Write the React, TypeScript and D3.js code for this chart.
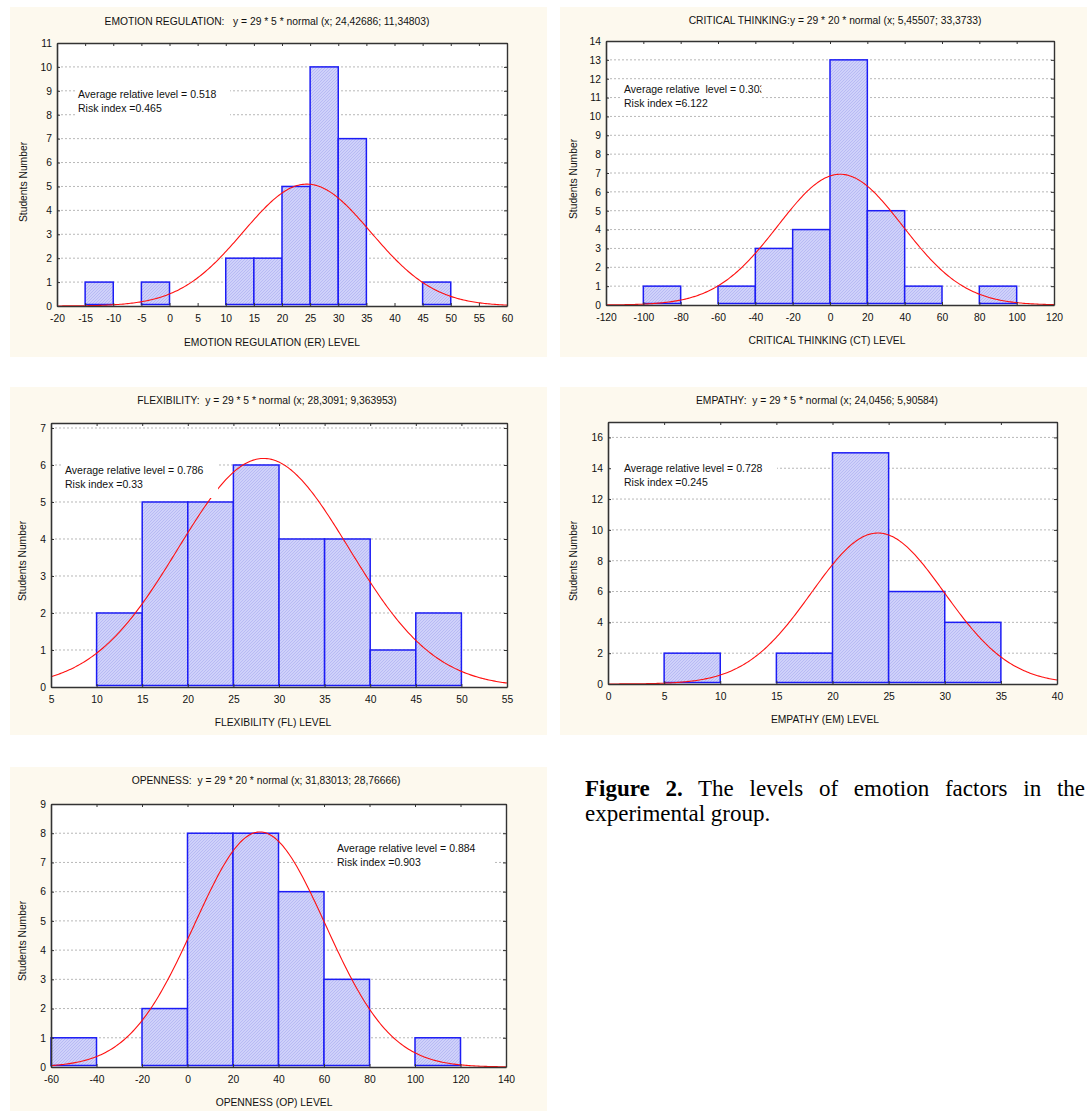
import { useRef, useEffect } from 'react';
import * as d3 from 'd3';

const W = 1087;
const H = 1111;
const sans = '"Liberation Sans", Arial, sans-serif';
const serif = '"Liberation Serif", "Times New Roman", serif';

// sample size of the group
const N = 29;

// ---- EMOTION REGULATION ----
const erEdges = [-20, -15, -10, -5, 0, 5, 10, 15, 20, 25, 30, 35, 40, 45, 50, 55, 60];
const erCounts = [0, 1, 0, 1, 0, 0, 2, 2, 5, 10, 7, 0, 0, 1, 0, 0];
const erYTicks = [0, 1, 2, 3, 4, 5, 6, 7, 8, 9, 10, 11];
const erFit = [24.42686, 11.34803];
const erNotes = ['Average relative level = 0.518', 'Risk index =0.465'];

// ---- CRITICAL THINKING ----
const ctEdges = [-120, -100, -80, -60, -40, -20, 0, 20, 40, 60, 80, 100, 120];
const ctCounts = [0, 1, 0, 1, 3, 4, 13, 5, 1, 0, 1, 0];
const ctYTicks = [0, 1, 2, 3, 4, 5, 6, 7, 8, 9, 10, 11, 12, 13, 14];
const ctFit = [5.45507, 33.3733];
const ctNotes = ['Average relative  level = 0.303', 'Risk index =6.122'];

// ---- FLEXIBILITY ----
const flEdges = [5, 10, 15, 20, 25, 30, 35, 40, 45, 50, 55];
const flCounts = [0, 2, 5, 5, 6, 4, 4, 1, 2, 0];
const flYTicks = [0, 1, 2, 3, 4, 5, 6, 7];
const flFit = [28.3091, 9.363953];
const flNotes = ['Average relative level = 0.786', 'Risk index =0.33'];

// ---- EMPATHY ----
const emEdges = [0, 5, 10, 15, 20, 25, 30, 35, 40];
const emCounts = [0, 2, 0, 2, 15, 6, 4, 0];
const emYTicks = [0, 2, 4, 6, 8, 10, 12, 14, 16];
const emFit = [24.0456, 5.90584];
const emNotes = ['Average relative level = 0.728', 'Risk index =0.245'];

// ---- OPENNESS ----
const opEdges = [-60, -40, -20, 0, 20, 40, 60, 80, 100, 120, 140];
const opCounts = [1, 0, 2, 8, 8, 6, 3, 0, 1, 0];
const opYTicks = [0, 1, 2, 3, 4, 5, 6, 7, 8, 9];
const opFit = [31.83013, 28.76666];
const opNotes = ['Average relative level = 0.884', 'Risk index =0.903'];

const panels = [
    {
        id: 'er', edges: erEdges, counts: erCounts, yTicks: erYTicks, yMax: 11, fit: erFit, notes: erNotes,
        title: 'EMOTION REGULATION:   y = 29 * 5 * normal (x; 24,42686; 11,34803)',
        xTitle: 'EMOTION REGULATION (ER) LEVEL',
        bg: [10, 7, 537, 350], plot: [57, 507, 43, 306],
        titlePos: [267, 21], xTitlePos: [272, 342], yTitlePos: [23, 182],
        notePos: [78, 98], box: [75, 87, 155, 31], clip: false,
    },
    {
        id: 'ct', edges: ctEdges, counts: ctCounts, yTicks: ctYTicks, yMax: 14, fit: ctFit, notes: ctNotes,
        title: 'CRITICAL THINKING:y = 29 * 20 * normal (x; 5,45507; 33,3733)',
        xTitle: 'CRITICAL THINKING (CT) LEVEL',
        bg: [560, 7, 527, 350], plot: [606, 1054, 41, 305],
        titlePos: [835, 20], xTitlePos: [827, 340], yTitlePos: [573, 179],
        notePos: [624, 93], box: [621, 83, 147, 28], clip: true,
    },
    {
        id: 'fl', edges: flEdges, counts: flCounts, yTicks: flYTicks, yMax: 7.135, fit: flFit, notes: flNotes,
        title: 'FLEXIBILITY:  y = 29 * 5 * normal (x; 28,3091; 9,363953)',
        xTitle: 'FLEXIBILITY (FL) LEVEL',
        bg: [10, 387, 537, 348], plot: [51, 507, 423, 687],
        titlePos: [267, 400], xTitlePos: [273, 722], yTitlePos: [22, 561],
        notePos: [65, 474], box: [62, 462, 156, 36], clip: false,
    },
    {
        id: 'em', edges: emEdges, counts: emCounts, yTicks: emYTicks, yMax: 17, fit: emFit, notes: emNotes,
        title: 'EMPATHY:  y = 29 * 5 * normal (x; 24,0456; 5,90584)',
        xTitle: 'EMPATHY (EM) LEVEL',
        bg: [560, 387, 527, 348], plot: [608, 1057, 422, 684],
        titlePos: [817, 400], xTitlePos: [825, 719], yTitlePos: [573, 561],
        notePos: [624, 472], box: [612, 460, 165, 36], clip: false,
    },
    {
        id: 'op', edges: opEdges, counts: opCounts, yTicks: opYTicks, yMax: 9, fit: opFit, notes: opNotes,
        title: 'OPENNESS:  y = 29 * 20 * normal (x; 31,83013; 28,76666)',
        xTitle: 'OPENNESS (OP) LEVEL',
        bg: [10, 767, 537, 344], plot: [51, 506, 804, 1067],
        titlePos: [266, 780], xTitlePos: [274, 1102], yTitlePos: [22, 941],
        notePos: [337, 852], box: [333, 840, 160, 33], clip: false,
    },
];

const captionBold = 'Figure 2.';
const captionRest = ' The levels of emotion factors in the';
const captionLine2 = 'experimental group.';

const drawPanel = (root, p) => {
    const [left, right, top, bottom] = p.plot;
    const g = root.append('g').attr('font-family', sans).attr('font-size', 10.3);

    g.append('rect')
        .attr('x', p.bg[0]).attr('y', p.bg[1]).attr('width', p.bg[2]).attr('height', p.bg[3])
        .attr('fill', '#fdf9ee');

    const x = d3.scaleLinear()
        .domain([p.edges[0], p.edges[p.edges.length - 1]])
        .range([left, right]);
    const y = d3.scaleLinear().domain([0, p.yMax]).range([bottom, top]);

    g.append('rect')
        .attr('x', left).attr('y', top).attr('width', right - left).attr('height', bottom - top)
        .attr('fill', '#ffffff');

    // dotted grid
    g.selectAll('line.grid')
        .data(p.yTicks.filter(t => t > 0 && t < p.yMax))
        .enter().append('line')
        .attr('class', 'grid')
        .attr('x1', left).attr('x2', right)
        .attr('y1', d => y(d)).attr('y2', d => y(d))
        .attr('stroke', '#b8b8b8')
        .attr('stroke-dasharray', '2,2')

    // histogram bars
    const bins = p.counts.map((c, i) => ({ x0: p.edges[i], x1: p.edges[i + 1], c }));
    g.selectAll('rect.bar')
        .data(bins)
        .enter().append('rect')
        .attr('class', 'bar')
        .attr('x', d => x(d.x0))
        .attr('width', d => x(d.x1) - x(d.x0))
        .attr('y', d => Math.min(y(d.c), y(0) - 1.5))
        .attr('height', d => Math.max(0, y(0) - 1.5 - y(d.c)))
        .attr('fill', 'url(#hatch)')
        .attr('stroke', '#1c1cf5')
        .attr('stroke-width', 1.5)

    // fitted normal curve
    const [mean, sd] = p.fit;
    const binW = p.edges[1] - p.edges[0];
    const dens = v => N * binW * Math.exp(-0.5 * ((v - mean) / sd) ** 2) / (sd * Math.sqrt(2 * Math.PI));
    const xs = d3.range(0, 301).map(i => x.invert(left + (right - left) * i / 300));
    const line = d3.line().x(d => x(d)).y(d => y(dens(d)));
    g.append('path')
        .attr('d', line(xs))
        .attr('fill', 'none')
        .attr('stroke', '#ff1010')
        .attr('stroke-width', 1.1)

    // annotation box (white, hides grid and curve)
    const [bx, by, bw, bh] = p.box;
    const boxRect = g.append('rect').attr('x', bx).attr('y', by).attr('width', bw).attr('height', bh).attr('fill', '#ffffff');
    const notes = g.append('g');
    const noteNodes = p.notes.map((t, i) =>
        notes.append('text')
            .attr('x', p.notePos[0]).attr('y', p.notePos[1] + i * 14)
            .attr('font-size', 10.5)
            .attr('fill', '#111')
            .style('white-space', 'pre')
            .text(t)
    );
    if (p.clip) {
        // the first note runs past its box in the original and is cut off
        const clipId = 'clip-' + p.id;
        const full = (noteNodes[0].node() as SVGTextElement).getComputedTextLength();
        const cw = p.notePos[0] - bx + full - 4;
        boxRect.attr('width', cw);
        g.append('clipPath').attr('id', clipId)
            .append('rect').attr('x', bx).attr('y', by).attr('width', cw).attr('height', bh);
        notes.attr('clip-path', `url(#${clipId})`);
    }

    // axes
    const fmt = d => String(d);
    const xAxis = g.append('g').attr('transform', `translate(0, ${bottom})`)
        .call(d3.axisBottom(x).tickValues(p.edges).tickSize(-3).tickSizeOuter(0).tickPadding(9).tickFormat(fmt));
    const yAxis = g.append('g').attr('transform', `translate(${left}, 0)`)
        .call(d3.axisLeft(y).tickValues(p.yTicks).tickSize(-3).tickSizeOuter(0).tickPadding(5).tickFormat(fmt));
    const topAxis = g.append('g').attr('transform', `translate(0, ${top})`)
        .call(d3.axisTop(x).tickValues(p.edges).tickSize(-3).tickSizeOuter(0).tickFormat(() => ''));
    const rightAxis = g.append('g').attr('transform', `translate(${right}, 0)`)
        .call(d3.axisRight(y).tickValues(p.yTicks).tickSize(-3).tickSizeOuter(0).tickFormat(() => ''));

    const axisColor = '#333333';
    ;[xAxis, yAxis, topAxis, rightAxis].forEach(a => {
        a.attr('font-family', sans).attr('font-size', 10.3)
        a.select('.domain').attr('stroke', axisColor).attr('stroke-width', 1.6)
        a.selectAll('.tick line').attr('stroke', axisColor).attr('stroke-width', 1)
        a.selectAll('.tick text').attr('fill', '#111')
    });
    topAxis.select('.domain').attr('stroke-width', 1.4)
    rightAxis.select('.domain').attr('stroke-width', 1.4)

    // titles
    g.append('text')
        .attr('x', p.titlePos[0]).attr('y', p.titlePos[1]).attr('dy', '0.35em')
        .attr('text-anchor', 'middle').attr('fill', '#111')
        .style('white-space', 'pre')
        .text(p.title)
    g.append('text')
        .attr('x', p.xTitlePos[0]).attr('y', p.xTitlePos[1]).attr('dy', '0.35em')
        .attr('text-anchor', 'middle').attr('fill', '#111')
        .text(p.xTitle)
    g.append('text')
        .attr('transform', `translate(${p.yTitlePos[0]}, ${p.yTitlePos[1]}) rotate(-90)`)
        .attr('dy', '0.35em')
        .attr('text-anchor', 'middle').attr('fill', '#111')
        .text('Students Number')
};

const App = () => {
    const d3svg = useRef(null)

    useEffect(() => {
        if (!d3svg.current) return
        const svg = d3.select(d3svg.current)
        svg.selectAll('*').remove()

        const defs = svg.append('defs')
        const pat = defs.append('pattern')
            .attr('id', 'hatch')
            .attr('patternUnits', 'userSpaceOnUse')
            .attr('width', 3).attr('height', 3)
        pat.append('rect').attr('width', 3).attr('height', 3).attr('fill', '#cfd1fa')
        pat.append('path')
            .attr('d', 'M-1,1 l2,-2 M0,3 l3,-3 M2,4 l2,-2')
            .attr('stroke', '#b2b4f2').attr('stroke-width', 0.8)

        panels.forEach(p => drawPanel(svg, p))

        // caption, first line justified to the column width
        const capX = 585
        const capRight = 1085
        const capSize = 23
        const cap1 = svg.append('text')
            .attr('x', capX).attr('y', 796)
            .attr('font-family', serif).attr('font-size', capSize).attr('fill', '#000')
            .style('white-space', 'pre')
        cap1.append('tspan').attr('font-weight', 'bold').text(captionBold)
        cap1.append('tspan').text(captionRest)
        const natural = (cap1.node() as SVGTextElement).getComputedTextLength()
        const gaps = (captionBold + captionRest).split(' ').length - 1
        cap1.attr('word-spacing', Math.max(0, (capRight - capX - natural) / gaps))

        svg.append('text')
            .attr('x', capX).attr('y', 821)
            .attr('font-family', serif).attr('font-size', capSize).attr('fill', '#000')
            .text(captionLine2)
    }, [])

    return (
        <svg
            width={W}
            height={H}
            ref={d3svg}
            style={{ position: 'absolute', left: 0, top: 0, background: '#ffffff' }}
        ></svg>
    )
}

export default App;
